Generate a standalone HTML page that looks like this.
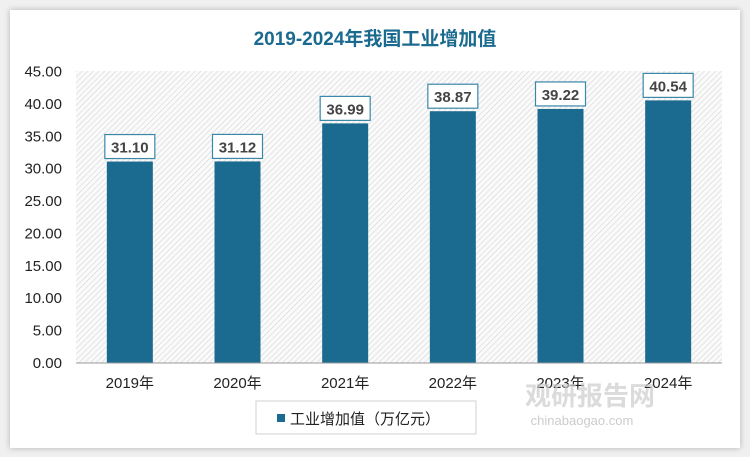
<!DOCTYPE html>
<html><head><meta charset="utf-8"><style>
body{margin:0;width:750px;height:457px;background:#f0f0f0;font-family:"Liberation Sans","Noto Sans CJK SC",sans-serif;overflow:hidden}
#card{position:absolute;left:10px;top:10px;width:730px;height:438px;background:#fff;box-shadow:0 0 6px rgba(0,0,0,.25)}
</style></head><body>
<div id="card"></div>
<svg id="c" width="750" height="457" style="position:absolute;left:0;top:0">
<defs><pattern id="h" width="4" height="4" patternUnits="userSpaceOnUse" patternTransform="rotate(45)"><rect width="4" height="4" fill="#fafafa"/><line x1="0" y1="0" x2="0" y2="4" stroke="#d6d6d6" stroke-width="1.2"/></pattern></defs>
<text x="375" y="45" text-anchor="middle" font-size="19" font-weight="bold" fill="#1b6a8f">2019-2024年我国工业增加值</text>
<rect x="76" y="71" width="646" height="292" fill="url(#h)"/>
<g id="g"></g>
<line x1="76" y1="363" x2="722" y2="363" stroke="#999"/>
<rect x="256" y="401" width="220" height="33" fill="#fff" stroke="#d0d0d0"/>
<rect x="277" y="414" width="8" height="8" fill="#1b6a8f"/>
<text x="290" y="424" font-size="15" fill="#222">工业增加值（万亿元）</text>
<text x="590" y="405" text-anchor="middle" font-size="26" font-weight="bold" fill="#ccc" opacity="0.7">观研报告网</text>
<text x="582" y="425" text-anchor="middle" font-size="13" fill="#ccc">chinabaogao.com</text>
</svg>
<script>
const categories=["2019年","2020年","2021年","2022年","2023年","2024年"];
const values=[31.10,31.12,36.99,38.87,39.22,40.54];
const ticks=[0,5,10,15,20,25,30,35,40,45];
const g=document.getElementById('g');const NS="http://www.w3.org/2000/svg";
const x0=76,pw=646,y0=363,y1=71.5,ymax=45;
const ys=v=>y0-(v/ymax)*(y0-y1);
const bw=pw/categories.length;
const xs=i=>x0+bw*(i+0.5);
function mk(t,a){const e=document.createElementNS(NS,t);for(const k in a)e.setAttribute(k,a[k]);g.appendChild(e);return e;}
ticks.forEach(t=>{const e=mk('text',{x:62,y:ys(t)+5,'text-anchor':'end','font-size':15,fill:'#222'});e.textContent=t.toFixed(2);

});
values.forEach((v,i)=>{const cx=xs(i);
const r=mk('rect',{x:cx-23,y:ys(v),width:46,height:y0-ys(v),fill:'#1b6a8f'});


const b=mk('rect',{x:cx-25,y:ys(v)-27,width:50,height:24,fill:'#fff',stroke:'#3a87a8','stroke-width':1.2});


const t=mk('text',{x:cx,y:ys(v)-9,'text-anchor':'middle','font-size':15,'font-weight':'bold',fill:'#444'});t.textContent=v.toFixed(2);


const l=mk('text',{x:cx,y:388,'text-anchor':'middle','font-size':15,fill:'#222'});l.textContent=categories[i];

});
</script>
</body></html>
